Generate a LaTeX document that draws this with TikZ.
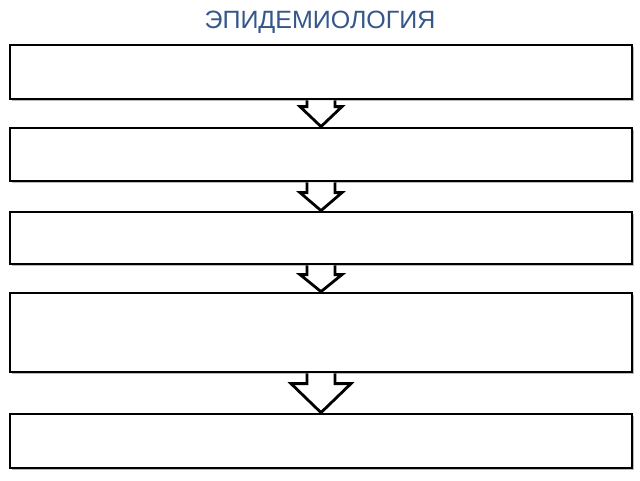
\documentclass[tikz,border=0pt]{standalone}
\usepackage{fontspec}
\setmainfont{Liberation Sans}
\usetikzlibrary{calc,shadows}
\definecolor{titleblue}{HTML}{35578A}
\tikzset{
  stagebox/.style={draw=black, fill=white, line width=2.8pt, minimum width=622pt, inner sep=0pt,
    drop shadow={shadow xshift=1.5pt, shadow yshift=-1.8pt, opacity=0.45, fill=black!60}},
  blockarrow/.style={draw=black, fill=white, line width=2.8pt, line join=miter}
}
\begin{document}
\begin{tikzpicture}[x=1pt,y=-1pt]
\useasboundingbox (0,0) rectangle (640,480);
\node[text=titleblue, font=\fontsize{25}{29}\selectfont] (title) at (320,22) {ЭПИДЕМИОЛОГИЯ};
% boxes
\node[stagebox, minimum height=54pt] (b1) at (321,72) {};
\node[stagebox, minimum height=53pt] (b2) at (321,154.5) {};
\node[stagebox, minimum height=52pt] (b3) at (321,238) {};
\node[stagebox, minimum height=79pt] (b4) at (321,332.5) {};
\node[stagebox, minimum height=54pt] (b5) at (321,441) {};
% block arrows
\foreach \a/\b/\hh/\hw in {b1/b2/20/21, b2/b3/18/21, b3/b4/17/21, b4/b5/29/30}{
  \draw[blockarrow]
    ($(\a.south)+(-14,0)$) -- ($(\b.north)+(-14,-\hh)$) -- ($(\b.north)+(-\hw,-\hh)$)
    -- (\b.north) -- ($(\b.north)+(\hw,-\hh)$) -- ($(\b.north)+(14,-\hh)$)
    -- ($(\a.south)+(14,0)$);
}
\end{tikzpicture}
\end{document}
